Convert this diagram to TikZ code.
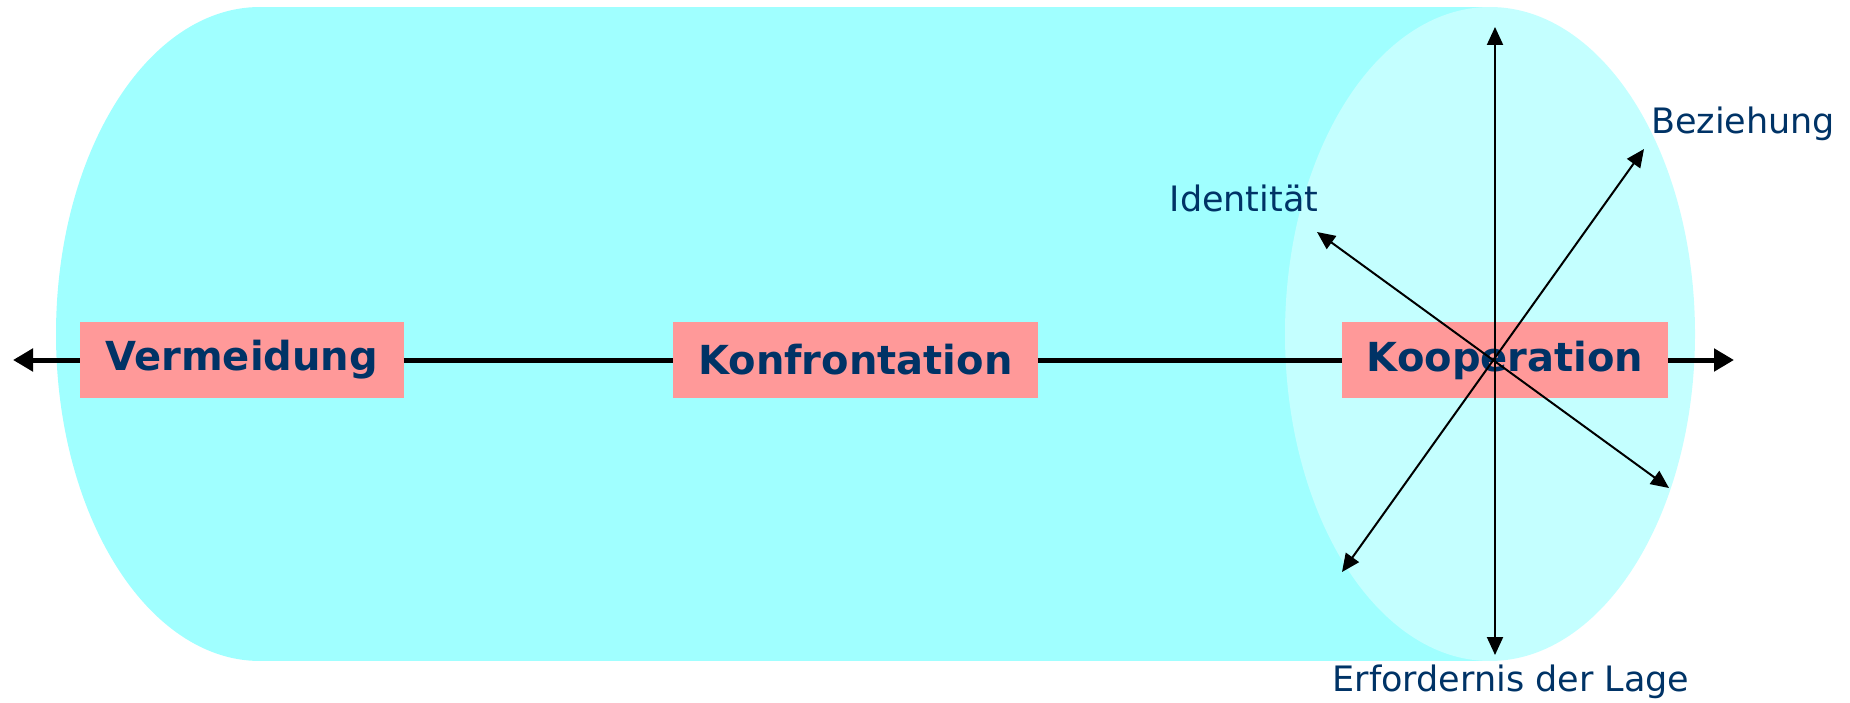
\documentclass[tikz,border=0pt]{standalone}
\usepackage{fontspec}
\setmainfont{DejaVu Sans}
\usetikzlibrary{arrows.meta}
\definecolor{tube}{RGB}{160,255,255}
\definecolor{tubeend}{RGB}{196,255,255}
\definecolor{boxfill}{RGB}{255,153,153}
\definecolor{navy}{RGB}{0,51,102}
\tikzset{
  stage/.style={fill=boxfill, text=navy, inner sep=0pt, minimum height=76pt,
    font=\fontsize{40}{48}\selectfont\bfseries},
  dimlabel/.style={text=navy, inner sep=0pt, font=\fontsize{35}{42}\selectfont},
  axis/.style={line width=5pt},
  axishead/.style={-{Triangle[length=20pt,width=22pt]}},
  dim/.style={line width=2pt, {Triangle[length=18pt,width=16pt]}-{Triangle[length=18pt,width=16pt]}}
}
\begin{document}
\begin{tikzpicture}[x=1pt,y=-1pt]
\useasboundingbox (0,0) rectangle (1850,703);
% tube body and its lighter end face
\fill[tube] (260,334) ellipse [x radius=204, y radius=327];
\fill[tube] (260,7) rectangle (1490,661);
\fill[tubeend] (1490,334) ellipse [x radius=205, y radius=327];

% stages along the axis
\node[stage, minimum width=323.5pt] (verm) at (241.75,360) {Vermeidung};
\node[stage, minimum width=364.7pt] (konf) at (855.35,360) {Konfrontation};
\node[stage, minimum width=326pt] (koop) at (1505,360) {Kooperation};

% main axis
\coordinate (ltip) at (13,360);
\coordinate (rtip) at (1734,360);
\draw[axis, axishead] (verm.west) -- (ltip);
\draw[axis] (verm.east) -- (konf.west);
\draw[axis] (konf.east) -- (koop.west);
\draw[axis, axishead] (koop.east) -- (rtip);

% dimensions of cooperation
\coordinate (up) at (1495,27);
\coordinate (down) at (1495,655);
\coordinate (idA) at (1317,232);
\coordinate (idB) at (1669,488);
\coordinate (bzA) at (1644,149);
\coordinate (bzB) at (1342,572);
\draw[dim] (down) -- (up);
\draw[dim] (idB) -- (idA);
\draw[dim] (bzB) -- (bzA);

% labels of the dimensions
\node[dimlabel, anchor=west] (bez) at (1651,124) {Beziehung};
\node[dimlabel] (ident) at (1244,198) {Identität};
\node[dimlabel] (lage) at (1511,682) {Erfordernis der Lage};
\end{tikzpicture}
\end{document}
